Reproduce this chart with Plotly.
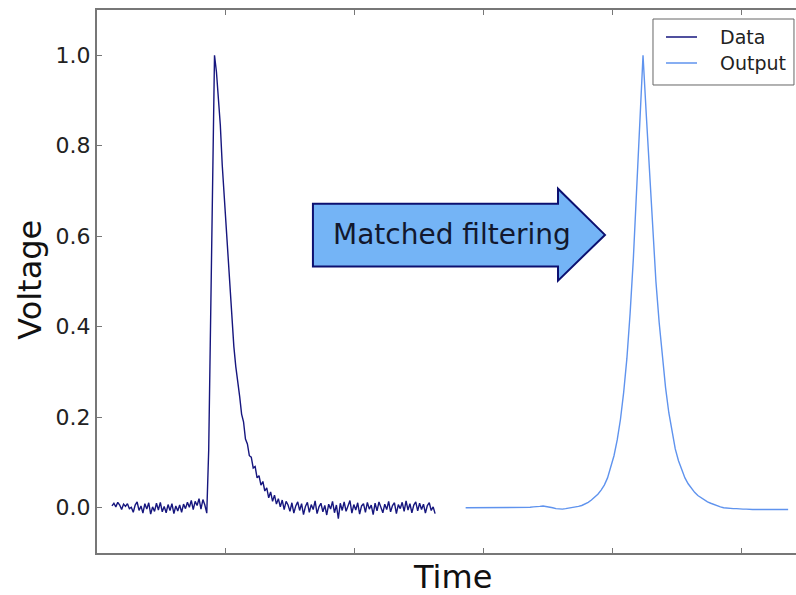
import numpy as np
import plotly.graph_objects as go

# ---------------- data ----------------
# Noisy detector pulse ("Data"), sampled on a uniform time grid
data_t0 = 0.116
data_dt = 0.015
data_pre = [0.004, 0.010, 0.002, 0.012, 0.006, -0.004, 0.008, 0.003, 0.009, -0.002,
            0.001, -0.010, 0.006, 0.013, -0.006, 0.004, -0.012, 0.009, -0.003, 0.011,
            -0.014, 0.002, -0.008, 0.010, -0.005, 0.012, -0.009, 0.003, -0.011, 0.007,
            -0.006, 0.009, -0.013, 0.004, -0.007, 0.006, -0.010, 0.008, -0.002, 0.012,
            0.001, 0.016, -0.004, 0.014, 0.005, 0.020, -0.003, 0.018, 0.006, -0.012]
data_rise = [0.128, 0.447, 0.766, 1.0]
data_decay = [0.963, 0.914, 0.846, 0.757, 0.688, 0.611, 0.545, 0.468, 0.413, 0.356,
              0.312, 0.271, 0.246, 0.207, 0.190, 0.152, 0.141, 0.115, 0.112, 0.088,
              0.091, 0.066, 0.071, 0.050, 0.058, 0.037, 0.044, 0.022, 0.035, 0.014,
              0.028, 0.008, 0.020, 0.002, 0.017, -0.004, 0.014]
data_post = [0.006, -0.008, 0.011, -0.012, 0.004, 0.013, -0.006, 0.009, -0.015, 0.003,
             0.012, -0.010, 0.007, -0.004, 0.015, -0.013, 0.002, 0.010, -0.009, 0.005,
             -0.016, 0.008, -0.003, 0.014, -0.011, 0.006, -0.024, 0.010, -0.006, 0.013,
             -0.008, 0.003, 0.016, -0.012, 0.007, -0.005, 0.011, -0.014, 0.004, 0.009,
             -0.010, 0.012, -0.003, 0.006, -0.015, 0.010, -0.007, 0.013, 0.001, -0.011,
             0.008, -0.004, 0.014, -0.009, 0.005, 0.011, -0.013, 0.007, -0.002, 0.012,
             -0.008, 0.015, -0.005, 0.009, -0.011, 0.006, 0.013, -0.007, 0.010, -0.004,
             0.008, -0.012, 0.005, 0.011, -0.006, 0.002, -0.013]

# Matched-filter output ("Output")
out_t0 = 2.858
out_dt = 0.025
out_base = [0.0, 0.0, 0.0, 0.0, 0.0, 0.0, 0.0, 0.0, 0.0, 0.0,
            0.0, 0.0, 0.0, 0.0, 0.0, 0.0, 0.0, 0.0, 0.0, 0.001,
            0.001, 0.002, 0.002, 0.003, 0.004, 0.003, 0.002, 0.0, -0.002, -0.003,
            -0.003, -0.002, -0.001, 0.0, 0.001]
out_rise = [0.003, 0.005, 0.008, 0.012, 0.017, 0.023, 0.030, 0.039, 0.050, 0.066,
            0.088, 0.115, 0.150, 0.195, 0.255, 0.330, 0.430, 0.550, 0.700, 0.850]
out_peak = [1.0]
out_fall = [0.870, 0.750, 0.630, 0.500, 0.410, 0.330, 0.265, 0.210, 0.165, 0.130,
            0.104, 0.083, 0.066, 0.053, 0.042, 0.034, 0.027, 0.022, 0.018, 0.013]
out_tail = [0.010, 0.007, 0.004, 0.002, 0.0, -0.001, -0.001, -0.002, -0.002, -0.003,
            -0.003, -0.003, -0.004, -0.004, -0.004, -0.004, -0.005, -0.004, -0.004, -0.004,
            -0.004, -0.004, -0.004, -0.004, -0.004]

series_names = ["Data", "Output"]
y_ticks = [0.0, 0.2, 0.4, 0.6, 0.8, 1.0]
y_tick_labels = ["0.0", "0.2", "0.4", "0.6", "0.8", "1.0"]
x_ticks = [0, 1, 2, 3, 4, 5]

# ---------------- styles ----------------
colors = ["#16167e", "#5f93ee"]

# ---------------- build series ----------------
data_y = np.array(data_pre + data_rise + data_decay + data_post)
data_x = data_t0 + data_dt * np.arange(len(data_y))
out_y = np.array(out_base + out_rise + out_peak + out_fall + out_tail)
out_x = out_t0 + out_dt * np.arange(len(out_y))

fig = go.Figure()
for xs, ys, name, col in [(data_x, data_y, series_names[0], colors[0]),
                          (out_x, out_y, series_names[1], colors[1])]:
    fig.add_trace(go.Scatter(x=xs, y=ys, mode="lines", name=name,
                             line=dict(color=col, width=1.4), showlegend=False))

# Arrow
fig.add_shape(type="path",
              path="M 1.674,0.672 L 3.574,0.672 L 3.574,0.705 L 3.938,0.603 "
                   "L 3.574,0.502 L 3.574,0.533 L 1.674,0.533 Z",
              xref="x", yref="y", fillcolor="#74b4f6",
              line=dict(color="#0c1070", width=2), layer="above")
fig.add_annotation(x=2.752, y=0.603, xref="x", yref="y", text="Matched filtering",
                   showarrow=False, font=dict(family="DejaVu Sans", size=28, color="#12182e"),
                   xanchor="center", yanchor="middle")

# Legend box (matplotlib style)
fig.add_shape(type="rect", xref="paper", yref="paper",
              x0=0.7954, x1=0.9971, y0=0.8619, y1=0.9834,
              fillcolor="white", line=dict(color="#666", width=1), layer="above")
leg_rows = [0.9503, 0.9024]
for name, col, ly in zip(series_names, colors, leg_rows):
    fig.add_shape(type="line", xref="paper", yref="paper",
                  x0=0.8140, x1=0.8584, y0=ly, y1=ly,
                  line=dict(color=col, width=1.4), layer="above")
    fig.add_annotation(x=0.8884, y=ly, xref="paper", yref="paper", text=name,
                       showarrow=False, xanchor="left", yanchor="middle",
                       font=dict(family="DejaVu Sans", size=19, color="#222"))

# Axis titles as annotations
fig.add_annotation(x=0.508, y=-0.082, xref="paper", yref="paper", text="Time",
                   showarrow=False, font=dict(family="DejaVu Sans", size=32, color="#111"),
                   xanchor="center", yanchor="bottom")
fig.add_annotation(x=-0.096, y=0.503, xref="paper", yref="paper", text="Voltage",
                   showarrow=False, textangle=-90,
                   font=dict(family="DejaVu Sans", size=32, color="#111"),
                   xanchor="center", yanchor="middle")

fig.update_layout(
    width=796, height=595,
    margin=dict(l=97, r=0, t=10, b=42),
    paper_bgcolor="white", plot_bgcolor="white",
    font=dict(family="DejaVu Sans", color="#222"),
    showlegend=False,
)
fig.update_xaxes(range=[0, 5.419], tickvals=x_ticks, showticklabels=False,
                 ticks="inside", ticklen=5, tickcolor="#777",
                 showline=True, linecolor="#777", linewidth=2, mirror="ticks",
                 showgrid=False, zeroline=False)
fig.update_yaxes(range=[-0.1, 1.1], tickvals=y_ticks, ticktext=y_tick_labels,
                 ticks="inside", ticklen=5, tickcolor="#777",
                 showline=True, linecolor="#777", linewidth=2, mirror=False,
                 showgrid=False, zeroline=False,
                 tickfont=dict(family="DejaVu Sans", size=22, color="#222"))

fig.write_html("out.html")
